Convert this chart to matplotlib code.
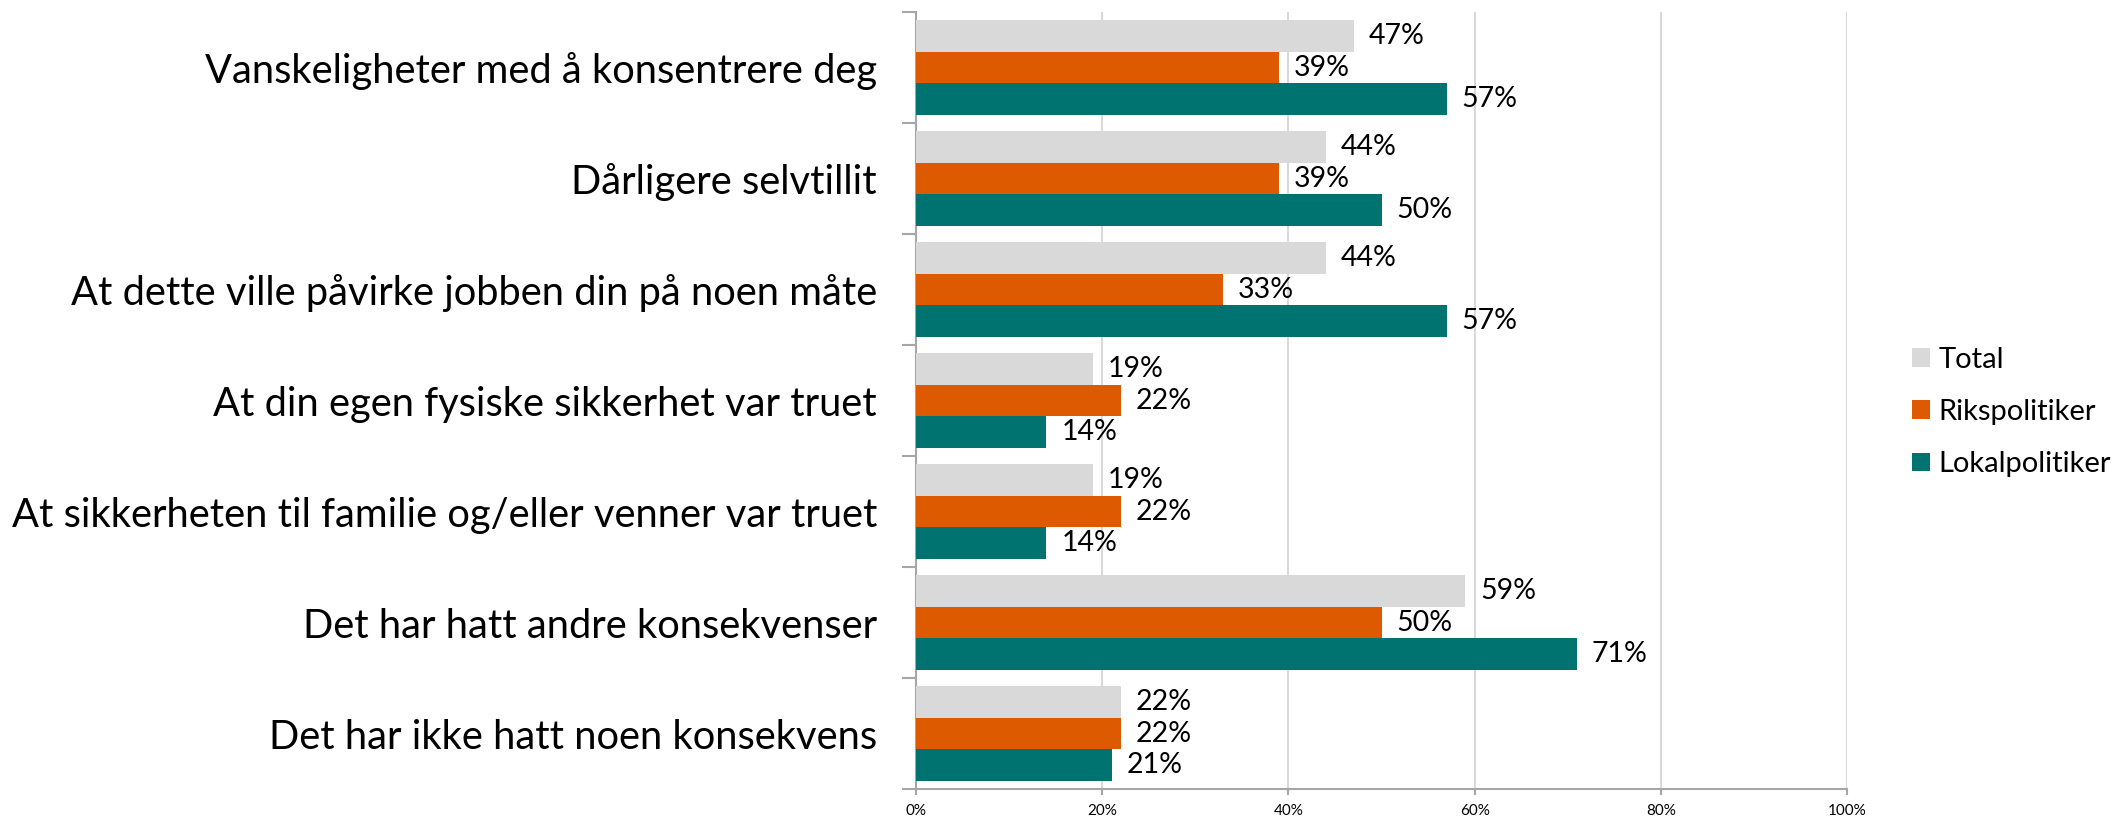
import matplotlib
matplotlib.use("Agg")
import matplotlib.pyplot as plt
import numpy as np

categories = [
    "Vanskeligheter med å konsentrere deg",
    "Dårligere selvtillit",
    "At dette ville påvirke jobben din på noen måte",
    "At din egen fysiske sikkerhet var truet",
    "At sikkerheten til familie og/eller venner var truet",
    "Det har hatt andre konsekvenser",
    "Det har ikke hatt noen konsekvens",
]
series_names = ["Total", "Rikspolitiker", "Lokalpolitiker"]
total = [47, 44, 44, 19, 19, 59, 22]
riks = [39, 39, 33, 22, 22, 50, 22]
lokal = [57, 50, 57, 14, 14, 71, 21]
x_ticks = [0, 20, 40, 60, 80, 100]
x_tick_labels = ["0%", "20%", "40%", "60%", "80%", "100%"]

colors = ["#D9D9D9", "#DD5A00", "#007370"]

plt.rcParams['font.family'] = ['Lato', 'DejaVu Sans']

fig = plt.figure(figsize=(21.16, 8.22), dpi=100)
ax = fig.add_axes([916 / 2116, 1 - 789 / 822, (1847 - 916) / 2116, (789 - 12) / 822])

n = len(categories)
bar_h = 0.288
y = np.arange(n)
for i, (vals, name) in enumerate(zip([total, riks, lokal], series_names)):
    pos = y + (i - 1) * bar_h
    ax.barh(pos, vals, height=bar_h, color=colors[i], label=name, zorder=3)
    for yy, v in zip(pos, vals):
        ax.text(v + 1.6, yy, f"{v}%", va="center", ha="left", fontsize=20.5, color="black")

ax.set_xlim(0, 100)
ax.set_ylim(n - 0.5, -0.5)
ax.set_xticks(x_ticks)
ax.set_xticklabels(x_tick_labels, fontsize=11)
ax.set_yticks(y)
ax.set_yticklabels(categories, fontsize=28.7)
ax.set_yticks(np.arange(n + 1) - 0.5, minor=True)
ax.tick_params(axis="y", which="major", length=0, pad=28)
ax.tick_params(axis="y", which="minor", length=10, width=1.5, color="#A6A6A6")
ax.tick_params(axis="x", length=4, width=1.5, color="#A6A6A6", pad=7)
ax.grid(axis="x", color="#D9D9D9", linewidth=1.5, zorder=0)
for s in ["top", "right"]:
    ax.spines[s].set_visible(False)
for s in ["left", "bottom"]:
    ax.spines[s].set_color("#A6A6A6")
    ax.spines[s].set_linewidth(1.5)

fig.legend(loc="center left", bbox_to_anchor=(1912 / 2116, 1 - 412 / 822), frameon=False,
           fontsize=21, handlelength=0.62, handleheight=0.62, handletextpad=0.28,
           labelspacing=0.9, borderpad=0, borderaxespad=0)

fig.savefig("out.png", dpi=100)
